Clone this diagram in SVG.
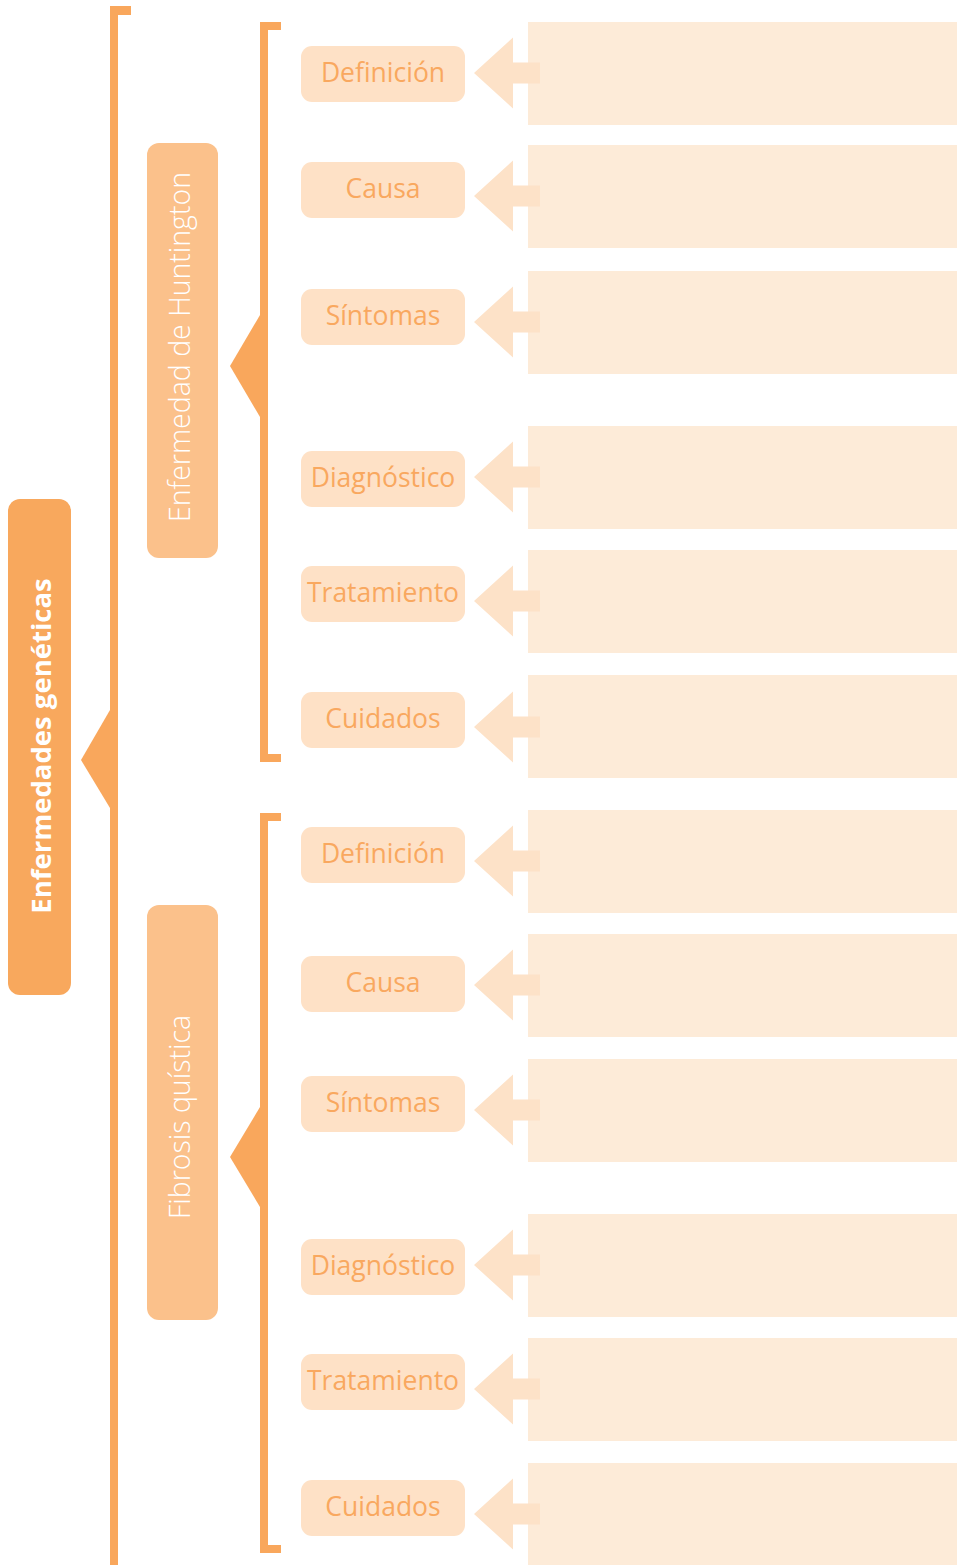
<svg xmlns="http://www.w3.org/2000/svg" width="957" height="1565" viewBox="0 0 957 1565">
<defs>
<style>
.br{fill:#F9A75C}
.main{fill:#F8A85D}
.sub{fill:#FBC18B}
.leaf{fill:#FEE1C6}
.box{fill:#FDEBD8}
.arr{fill:#FDE2C8}
.lt{font-family:"Open Sans","Noto Sans",sans-serif;font-size:26.5px;fill:#F9A85F;text-anchor:middle;dominant-baseline:central}
.st{font-family:"Open Sans","Noto Sans",sans-serif;font-size:28.5px;font-weight:300;fill:#FFFFFF;text-anchor:middle;dominant-baseline:central}
.mt{font-family:"Open Sans","Noto Sans",sans-serif;font-size:27.5px;font-weight:700;fill:#FFFFFF;text-anchor:middle;dominant-baseline:central}
</style>
<path id="ar" d="M0,0 L39,-35.5 L39,-10.5 L66,-10.5 L66,10.5 L39,10.5 L39,35.5 Z"/>
</defs>
<rect width="957" height="1565" fill="#FFFFFF"/>
<g id="boxes">
<rect class="box" x="528" y="22" width="429" height="103"/>
<rect class="box" x="528" y="145" width="429" height="103"/>
<rect class="box" x="528" y="271" width="429" height="103"/>
<rect class="box" x="528" y="426" width="429" height="103"/>
<rect class="box" x="528" y="550" width="429" height="103"/>
<rect class="box" x="528" y="675" width="429" height="103"/>
<rect class="box" x="528" y="810" width="429" height="103"/>
<rect class="box" x="528" y="934" width="429" height="103"/>
<rect class="box" x="528" y="1059" width="429" height="103"/>
<rect class="box" x="528" y="1214" width="429" height="103"/>
<rect class="box" x="528" y="1338" width="429" height="103"/>
<rect class="box" x="528" y="1463" width="429" height="103"/>
</g>
<g id="connectors">
<rect class="br" x="110" y="6" width="8" height="1559"/>
<rect class="br" x="110" y="6" width="21" height="9"/>
<polygon class="br" points="81,760 110,710 110,808"/>
<rect class="br" x="260" y="22" width="8" height="740"/>
<rect class="br" x="260" y="22" width="21" height="8"/>
<rect class="br" x="260" y="754" width="21" height="8"/>
<polygon class="br" points="230,366 260,315 260,417"/>
<rect class="br" x="260" y="813" width="8" height="740"/>
<rect class="br" x="260" y="813" width="21" height="8"/>
<rect class="br" x="260" y="1545" width="21" height="8"/>
<polygon class="br" points="230,1157 260,1107 260,1207"/>
<use href="#ar" class="arr" x="474" y="73"/>
<use href="#ar" class="arr" x="474" y="196"/>
<use href="#ar" class="arr" x="474" y="322"/>
<use href="#ar" class="arr" x="474" y="477"/>
<use href="#ar" class="arr" x="474" y="601"/>
<use href="#ar" class="arr" x="474" y="727"/>
<use href="#ar" class="arr" x="474" y="861"/>
<use href="#ar" class="arr" x="474" y="985"/>
<use href="#ar" class="arr" x="474" y="1110"/>
<use href="#ar" class="arr" x="474" y="1265"/>
<use href="#ar" class="arr" x="474" y="1389"/>
<use href="#ar" class="arr" x="474" y="1514"/>
</g>
<g id="node-main">
<rect class="main" x="8" y="499" width="63" height="496" rx="12"/>
<text class="mt" transform="translate(40,746) rotate(-90)">Enfermedades genéticas</text>
</g>
<g id="node-huntington">
<rect class="sub" x="147" y="143" width="71" height="415" rx="12"/>
<text class="st" transform="translate(179,347) rotate(-90)">Enfermedad de Huntington</text>
</g>
<g id="node-fibrosis">
<rect class="sub" x="147" y="905" width="71" height="415" rx="12"/>
<text class="st" transform="translate(179,1117) rotate(-90)">Fibrosis quística</text>
</g>
<g id="leaf-h1"><rect class="leaf" x="301" y="46" width="164" height="56" rx="11"/><text class="lt" x="383" y="72">Definición</text></g>
<g id="leaf-h2"><rect class="leaf" x="301" y="162" width="164" height="56" rx="11"/><text class="lt" x="383" y="188">Causa</text></g>
<g id="leaf-h3"><rect class="leaf" x="301" y="289" width="164" height="56" rx="11"/><text class="lt" x="383" y="315">Síntomas</text></g>
<g id="leaf-h4"><rect class="leaf" x="301" y="451" width="164" height="56" rx="11"/><text class="lt" x="383" y="477">Diagnóstico</text></g>
<g id="leaf-h5"><rect class="leaf" x="301" y="566" width="164" height="56" rx="11"/><text class="lt" x="383" y="592">Tratamiento</text></g>
<g id="leaf-h6"><rect class="leaf" x="301" y="692" width="164" height="56" rx="11"/><text class="lt" x="383" y="718">Cuidados</text></g>
<g id="leaf-f1"><rect class="leaf" x="301" y="827" width="164" height="56" rx="11"/><text class="lt" x="383" y="853">Definición</text></g>
<g id="leaf-f2"><rect class="leaf" x="301" y="956" width="164" height="56" rx="11"/><text class="lt" x="383" y="982">Causa</text></g>
<g id="leaf-f3"><rect class="leaf" x="301" y="1076" width="164" height="56" rx="11"/><text class="lt" x="383" y="1102">Síntomas</text></g>
<g id="leaf-f4"><rect class="leaf" x="301" y="1239" width="164" height="56" rx="11"/><text class="lt" x="383" y="1265">Diagnóstico</text></g>
<g id="leaf-f5"><rect class="leaf" x="301" y="1354" width="164" height="56" rx="11"/><text class="lt" x="383" y="1380">Tratamiento</text></g>
<g id="leaf-f6"><rect class="leaf" x="301" y="1480" width="164" height="56" rx="11"/><text class="lt" x="383" y="1506">Cuidados</text></g>
</svg>
